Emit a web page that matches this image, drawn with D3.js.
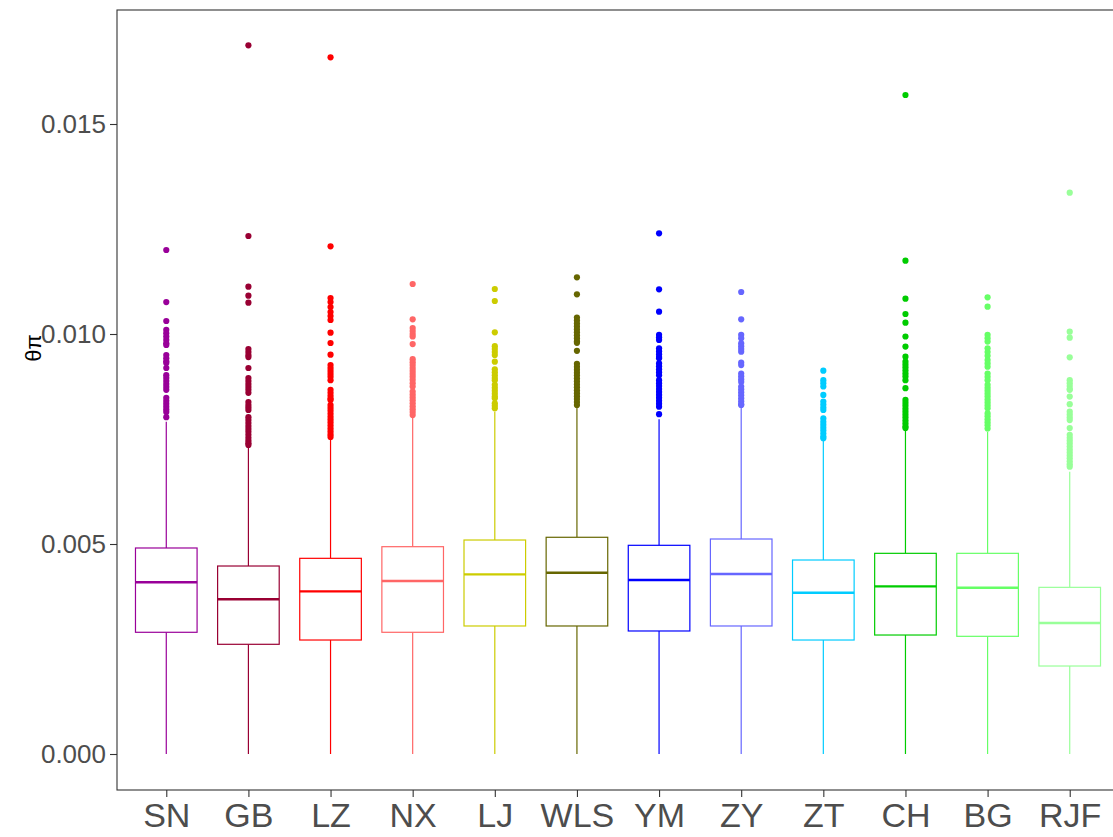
<!DOCTYPE html>
<html>
<head>
<meta charset="utf-8">
<script src="https://cdn.jsdelivr.net/npm/d3@7"></script>
<style>
  html, body { margin: 0; padding: 0; background: #fff; }
  svg { display: block; }
  text { font-family: "Liberation Sans", Arial, sans-serif; }
</style>
</head>
<body>
<svg id="chart" width="1113" height="837"></svg>
<script>
// Populations along the x axis
const categories = ["SN", "GB", "LZ", "NX", "LJ", "WLS", "YM", "ZY", "ZT", "CH", "BG", "RJF"];
const colors = ["#990099", "#990033", "#FF0000", "#FF6666", "#CCCC00", "#666600",
                "#0000FF", "#6666FF", "#00CCFF", "#00CC00", "#66FF66", "#99FF99"];

// Five-number summaries per population
const whiskerLow  = [0, 0, 0, 0, 0, 0, 0, 0, 0, 0, 0, 0];
const q1          = [0.002898, 0.002612, 0.002714, 0.002898, 0.003048, 0.003048, 0.002929, 0.003048, 0.002714, 0.002833, 0.002802, 0.002095];
const median      = [0.004088, 0.003683, 0.003873, 0.004119, 0.004278, 0.004317, 0.004143, 0.004286, 0.003840, 0.003992, 0.003960, 0.003119];
const q3          = [0.004905, 0.004476, 0.004659, 0.004936, 0.005095, 0.005160, 0.004969, 0.005119, 0.004619, 0.004778, 0.004778, 0.003968];
const whiskerHigh = [0.00791, 0.00732, 0.00752, 0.00803, 0.00815, 0.00827, 0.007968, 0.00827, 0.007493, 0.007714, 0.007674, 0.00672];

// Outlying values per population
const outliers = [
  [0.01200, 0.01076, 0.01031, 0.01010, 0.01002, 0.00994, 0.00986, 0.00978, 0.00974, 0.00950, 0.00942, 0.00935, 0.00931,
   0.00919, 0.00902, 0.00895, 0.00888, 0.00881, 0.00874, 0.00867, 0.00848, 0.00841, 0.00834, 0.00827, 0.00820, 0.00814, 0.00802],
  [0.016874, 0.012333, 0.011126, 0.010912, 0.010745, 0.00964, 0.00957, 0.00950, 0.00945, 0.00919, 0.00895, 0.00888, 0.00881,
   0.00874, 0.00867, 0.00860, 0.00838, 0.00831, 0.00825, 0.00819, 0.00802, 0.00795, 0.00788, 0.00781, 0.00774, 0.00767,
   0.00760, 0.00753, 0.00746, 0.00740, 0.00736],
  [0.016588, 0.012088, 0.010857, 0.01076, 0.010643, 0.010524, 0.010429, 0.010333, 0.010031, 0.009786, 0.009507, 0.00926,
   0.00919, 0.00912, 0.00905, 0.00898, 0.00890, 0.00867, 0.00860, 0.00853, 0.00846, 0.00843, 0.00831, 0.00824, 0.00817,
   0.00810, 0.00803, 0.00796, 0.00789, 0.00782, 0.00775, 0.00768, 0.00761, 0.00755],
  [0.01119, 0.01035, 0.01014, 0.01007, 0.01000, 0.00994, 0.00976, 0.00940, 0.00933, 0.00926, 0.00919, 0.00912, 0.00905,
   0.00898, 0.00891, 0.00883, 0.00875, 0.00863, 0.00856, 0.00849, 0.00842, 0.00835, 0.00828, 0.00821, 0.00814, 0.00807],
  [0.011071, 0.010786, 0.01004, 0.00971, 0.00964, 0.00957, 0.00950, 0.00934, 0.00916, 0.00909, 0.00902, 0.00895, 0.00890,
   0.00879, 0.00872, 0.00865, 0.00858, 0.00851, 0.00847, 0.00835, 0.00829, 0.00823],
  [0.01135, 0.010945, 0.01039, 0.01032, 0.01025, 0.01018, 0.01011, 0.01004, 0.00997, 0.00990, 0.00983, 0.00979, 0.00960,
   0.00929, 0.00922, 0.00915, 0.00908, 0.00901, 0.00894, 0.00887, 0.00880, 0.00873, 0.00866, 0.00859, 0.00852, 0.00845,
   0.00838, 0.00831],
  [0.012397, 0.011064, 0.010531, 0.00998, 0.00992, 0.00986, 0.00966, 0.00959, 0.00952, 0.00945, 0.00942, 0.00930, 0.00923,
   0.00916, 0.00909, 0.00902, 0.00890, 0.00883, 0.00876, 0.00869, 0.00862, 0.00855, 0.00848, 0.00841, 0.00834, 0.00827, 0.00809],
  [0.01100, 0.01035, 0.00998, 0.00990, 0.00978, 0.00971, 0.00964, 0.00958, 0.00932, 0.00926, 0.00906, 0.00899, 0.00892,
   0.00886, 0.00875, 0.00868, 0.00861, 0.00854, 0.00847, 0.00840, 0.00833, 0.00831],
  [0.009127, 0.00890, 0.00883, 0.00875, 0.00855, 0.00839, 0.00832, 0.00825, 0.00819, 0.00799, 0.00791, 0.00784, 0.00777,
   0.00770, 0.00763, 0.00756, 0.00752],
  [0.01569, 0.011745, 0.01084, 0.010476, 0.01027, 0.00994, 0.00970, 0.00946, 0.00934, 0.00927, 0.00920, 0.00913, 0.00906,
   0.00899, 0.00890, 0.00871, 0.00843, 0.00836, 0.00829, 0.00822, 0.00815, 0.00808, 0.00801, 0.00794, 0.00787, 0.00780, 0.00776],
  [0.010873, 0.01065, 0.00998, 0.00990, 0.00982, 0.00966, 0.00957, 0.00948, 0.00938, 0.00930, 0.00922, 0.00906, 0.00898,
   0.00890, 0.00879, 0.00872, 0.00865, 0.00858, 0.00851, 0.00844, 0.00837, 0.00830, 0.00823, 0.00811, 0.00804, 0.00797,
   0.00790, 0.00783, 0.00775],
  [0.013365, 0.010055, 0.009913, 0.009445, 0.00890, 0.00883, 0.00876, 0.00869, 0.00867, 0.00851, 0.00833, 0.00815, 0.00808,
   0.00801, 0.00795, 0.00776, 0.00760, 0.00753, 0.00746, 0.00739, 0.00732, 0.00725, 0.00718, 0.00711, 0.00704, 0.00697,
   0.00690, 0.00684]
];

const yTicks = [0, 0.005, 0.010, 0.015];
const yTitle = "θπ";

// ---- layout ----
const panel = { left: 117, right: 1119, top: 10, bottom: 790 };
const svg = d3.select("#chart");

const x = d3.scalePoint()
  .domain(categories)
  .range([panel.left, panel.right])
  .padding(0.6);

const y = d3.scaleLinear()
  .domain([-0.000857, 0.0177143])
  .range([panel.bottom, panel.top]);

const boxW = x.step() * 0.75;

const groups = categories.map((c, i) => ({
  cat: c, color: colors[i], lo: whiskerLow[i], q1: q1[i], med: median[i],
  q3: q3[i], hi: whiskerHigh[i], out: outliers[i]
}));

const plot = svg.append("g");

const g = plot.selectAll("g.box").data(groups).enter().append("g").attr("class", "box");

// whiskers
g.append("line")
  .attr("x1", d => x(d.cat)).attr("x2", d => x(d.cat))
  .attr("y1", d => y(d.q3)).attr("y2", d => y(d.hi))
  .attr("stroke", d => d.color).attr("stroke-width", 1.2);
g.append("line")
  .attr("x1", d => x(d.cat)).attr("x2", d => x(d.cat))
  .attr("y1", d => y(d.q1)).attr("y2", d => y(d.lo))
  .attr("stroke", d => d.color).attr("stroke-width", 1.2);

// boxes
g.append("rect")
  .attr("x", d => x(d.cat) - boxW / 2)
  .attr("width", boxW)
  .attr("y", d => y(d.q3))
  .attr("height", d => y(d.q1) - y(d.q3))
  .attr("fill", "#fff")
  .attr("stroke", d => d.color).attr("stroke-width", 1.2);

// medians
g.append("line")
  .attr("x1", d => x(d.cat) - boxW / 2).attr("x2", d => x(d.cat) + boxW / 2)
  .attr("y1", d => y(d.med)).attr("y2", d => y(d.med))
  .attr("stroke", d => d.color).attr("stroke-width", 2.4);

// outliers
g.selectAll("circle").data(d => d.out.map(v => ({ v, cat: d.cat, color: d.color })))
  .enter().append("circle")
  .attr("cx", d => x(d.cat))
  .attr("cy", d => y(d.v))
  .attr("r", 3.1)
  .attr("fill", d => d.color);

// ---- axes ----
const yAxis = d3.axisLeft(y).tickValues(yTicks).tickFormat(d3.format(".3f")).tickSize(7).tickPadding(4);
const yg = svg.append("g").attr("transform", `translate(${panel.left},0)`).call(yAxis);
yg.select(".domain").remove();
yg.selectAll(".tick line").attr("stroke", "#333").attr("stroke-width", 1.1);
yg.selectAll(".tick text").attr("fill", "#4d4d4d").attr("font-size", 26)
  .attr("font-family", "Liberation Sans, Arial, sans-serif");

const xAxis = d3.axisBottom(x).tickSize(7).tickPadding(6);
const xg = svg.append("g").attr("transform", `translate(0,${panel.bottom})`).call(xAxis);
xg.select(".domain").remove();
xg.selectAll(".tick line").attr("stroke", "#333").attr("stroke-width", 1.1);
xg.selectAll(".tick text").attr("fill", "#4d4d4d").attr("font-size", 34)
  .attr("font-family", "Liberation Sans, Arial, sans-serif");

// panel border
svg.append("rect")
  .attr("x", panel.left).attr("y", panel.top)
  .attr("width", panel.right - panel.left).attr("height", panel.bottom - panel.top)
  .attr("fill", "none").attr("stroke", "#333").attr("stroke-width", 1.1);

// y axis title
svg.append("text")
  .attr("transform", `translate(41,348) rotate(-90)`)
  .attr("text-anchor", "middle")
  .attr("font-size", 22)
  .attr("fill", "#000")
  .text(yTitle);
</script>
</body>
</html>
